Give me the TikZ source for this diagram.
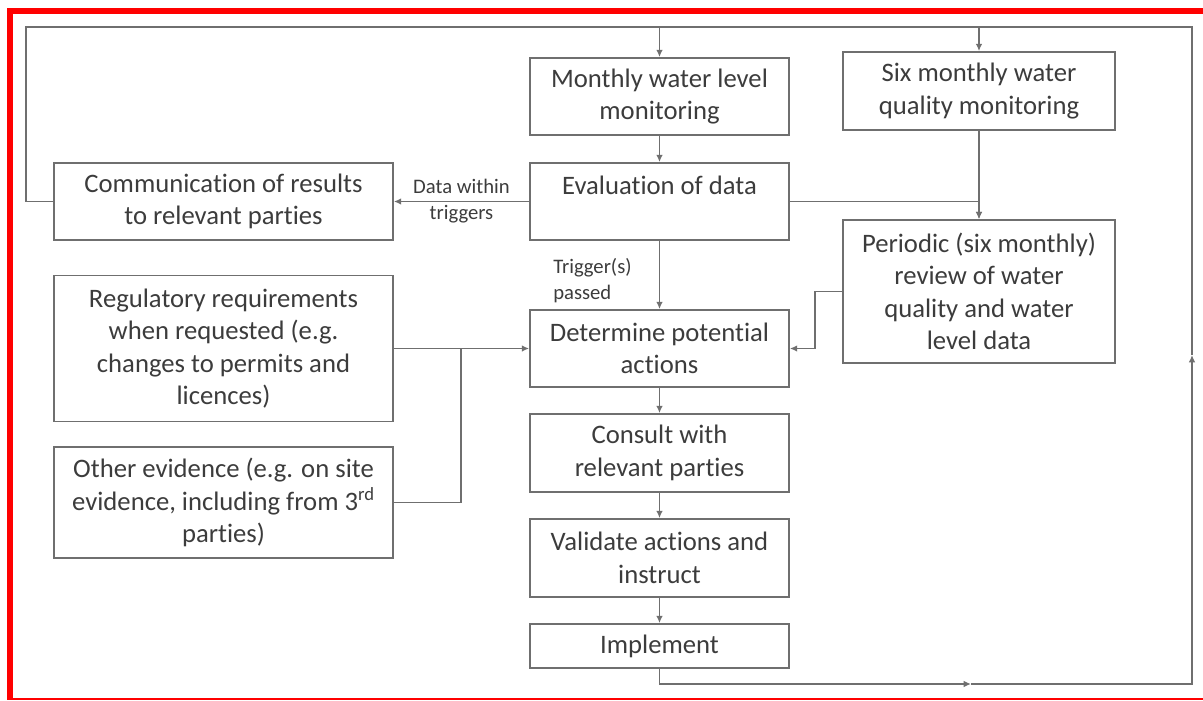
\documentclass[tikz,border=0pt]{standalone}
\usepackage{fontspec}
\setmainfont{Carlito}[Ligatures=NoCommon]
\usetikzlibrary{arrows.meta}
\definecolor{boxgray}{HTML}{6F6F6F}
\definecolor{textgray}{HTML}{3C3C3C}
\definecolor{framered}{HTML}{FF0000}

\begin{document}
\begin{tikzpicture}[x=0.75pt, y=-0.75pt,
		stagebox/.style={draw=boxgray, line width=1.3pt, text=textgray, align=center, inner sep=0pt,
			font=\fontsize{20}{24.4}\selectfont},
		flow/.style={draw=boxgray, line width=1.1pt},
		flowarrow/.style={flow, -{Latex[length=5.5pt,width=5pt]}},
		smalllabel/.style={text=textgray, inner sep=0pt, font=\fontsize{15.5}{19.5}\selectfont}]
		\useasboundingbox (0,0) rectangle (1203,700);
		% red frame
		\fill[framered] (7,8) rectangle (1203,14);
		\fill[framered] (7,8) rectangle (13,700);
		\fill[framered] (7,698) rectangle (1203,700);

		% boxes
		\node[stagebox, minimum width=194.3pt, minimum height=57.8pt] (monthly) at (659.5,96.5) {Monthly water level\\monitoring};
		\node[stagebox, minimum width=204pt, minimum height=58.5pt] (six) at (979,91) {Six monthly water\\quality monitoring};
		\node[stagebox, minimum width=194.3pt, minimum height=57.8pt] (eval) at (659.5,201.5) {Evaluation of data\\\mbox{}};
		\node[stagebox, minimum width=254.3pt, minimum height=57.8pt] (comm) at (223.5,201.5) {Communication of results\\to relevant parties};
		\node[stagebox, minimum width=204pt, minimum height=107.3pt] (periodic) at (979,291.5) {Periodic (six monthly)\\review of water\\quality and water\\level data};
		\node[stagebox, minimum width=254.3pt, minimum height=109.5pt] (reg) at (223.5,348.5) {Regulatory requirements\\when requested (e.g.\\changes to permits and\\licences)};
		\node[stagebox, minimum width=254.3pt, minimum height=83.3pt] (other) at (223.5,502.5) {Other evidence (e.g. on site\\evidence, including from 3\textsuperscript{rd}\\parties)};
		\node[stagebox, minimum width=194.3pt, minimum height=57.8pt] (determine) at (659.5,348.5) {Determine potential\\actions};
		\node[stagebox, minimum width=194.3pt, minimum height=58.5pt] (consult) at (659.5,453) {Consult with\\relevant parties};
		\node[stagebox, minimum width=194.3pt, minimum height=58.5pt] (validate) at (659.5,558) {Validate actions and\\instruct};
		\node[stagebox, minimum width=194.3pt, minimum height=33pt] (implement) at (659.5,646) {Implement};

		% feedback loop
		\coordinate (topleft) at (26,27);
		\coordinate (topright) at (1192,27);
		\coordinate (rightmid) at (1192,355);
		\coordinate (botmid) at (971,684);
		\draw[flowarrow] (implement.south) |- (botmid);
		\draw[flowarrow] (botmid) -| (rightmid);
		\draw[flow] (rightmid) -- (topright) -- (topleft) |- (comm.west);
		\draw[flowarrow] (monthly.north |- topleft) -- (monthly.north);
		\draw[flowarrow] (six.north |- topleft) -- (six.north);

		% main flow
		\draw[flowarrow] (monthly) -- (eval);
		\draw[flowarrow] (eval) -- (comm) node[midway, smalllabel, align=center] {Data within\\triggers};
		\draw[flowarrow] (eval.east) -| (periodic.north);
		\draw[flowarrow] (six) -- (periodic);
		\draw[flowarrow] (eval) -- (determine);
		\node[smalllabel, align=left, anchor=west] (trig) at (553,281) {Trigger(s)\\passed};
		\draw[flowarrow] (periodic.west) -- ++(-27,0) |- (determine.east);
		\draw[flowarrow] (reg) -- (determine);
		\draw[flow] (other.east) -- ++(67,0) |- (reg.east);
		\draw[flowarrow] (determine) -- (consult);
		\draw[flowarrow] (consult) -- (validate);
		\draw[flowarrow] (validate) -- (implement);
	\end{tikzpicture}
\end{document}
